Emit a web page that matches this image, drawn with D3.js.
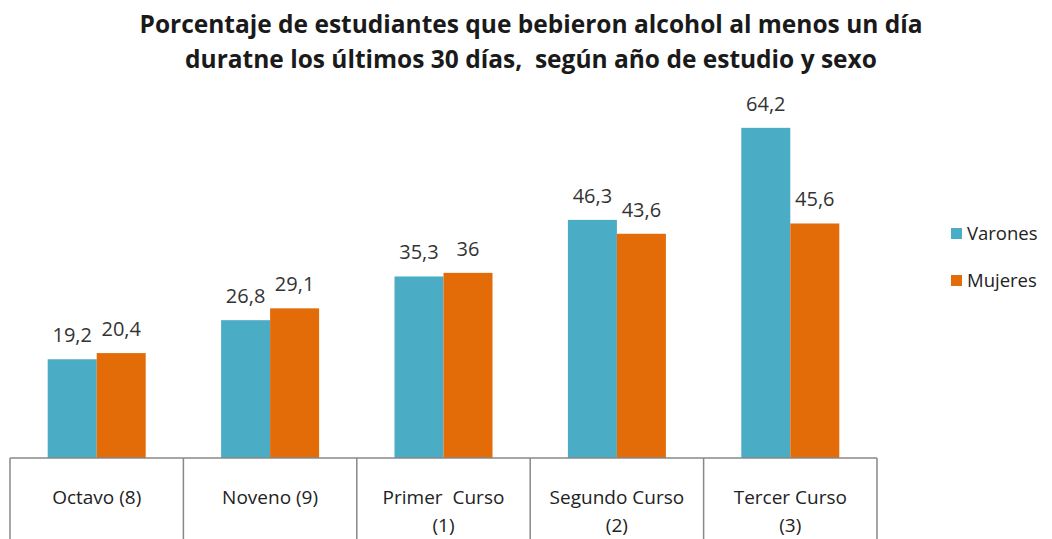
<!DOCTYPE html>
<html>
<head>
<meta charset="utf-8">
<script src="https://cdn.jsdelivr.net/npm/d3@7"></script>
<style>
  body { margin: 0; background: #fff; }
  text { font-family: "Open Sans", "Noto Sans", sans-serif; white-space: pre; }
</style>
</head>
<body>
<div id="chart"></div>
<script>
const W = 1052, H = 539;
const categories = [["Octavo (8)"], ["Noveno (9)"], ["Primer  Curso", "(1)"], ["Segundo Curso", "(2)"], ["Tercer Curso", "(3)"]];
const series = ["Varones", "Mujeres"];
const varones = [19.2, 26.8, 35.3, 46.3, 64.2];
const mujeres = [20.4, 29.1, 36, 43.6, 45.6];
const titleLines = ["Porcentaje de estudiantes que bebieron alcohol al menos un día",
                    "duratne los últimos 30 días,  según año de estudio y sexo"];
const colors = ["#4bacc6", "#e36c09"];

const plot = { left: 10, right: 877, top: 98, bottom: 458 };

const svg = d3.select("#chart").append("svg")
  .attr("width", W).attr("height", H);

// title
svg.append("g").selectAll("text")
  .data(titleLines)
  .join("text")
    .attr("x", 531)
    .attr("y", (d, i) => 33 + i * 35)
    .attr("text-anchor", "middle")
    .attr("font-size", "24.5px")
    .attr("font-weight", "bold")
    .attr("fill", "#1a1a1a")
    .text(d => d);

const keys = categories.map((c, i) => i);
const x = d3.scaleBand().domain(keys).range([plot.left, plot.right]);
const xs = d3.scaleBand().domain(series).range([0, 98]);
const y = d3.scaleLinear().domain([0, 70]).range([plot.bottom, plot.top]);

const data = keys.map(i => ({ i, values: [varones[i], mujeres[i]] }));

const groups = svg.append("g").selectAll("g")
  .data(data)
  .join("g")
    .attr("transform", d => `translate(${x(d.i) + (x.bandwidth() - 98) / 2},0)`);

groups.selectAll("rect")
  .data(d => d.values.map((v, k) => ({ key: series[k], v, k })))
  .join("rect")
    .attr("x", d => xs(d.key))
    .attr("width", xs.bandwidth())
    .attr("y", d => y(d.v))
    .attr("height", d => y(0) - y(d.v))
    .attr("fill", d => colors[d.k]);

groups.selectAll("text")
  .data(d => d.values.map((v, k) => ({ key: series[k], v, k })))
  .join("text")
    .attr("x", d => xs(d.key) + xs.bandwidth() / 2)
    .attr("y", d => y(d.v) - 17)
    .attr("text-anchor", "middle")
    .attr("font-size", "20px")
    .attr("fill", "#333")
    .text(d => String(d.v).replace(".", ","));

// category axis as table cells
const axis = svg.append("g").attr("stroke", "#888").attr("stroke-width", 1.5);
axis.append("line")
  .attr("x1", plot.left).attr("x2", plot.right)
  .attr("y1", plot.bottom).attr("y2", plot.bottom);
axis.selectAll("line.div")
  .data(keys.concat([keys.length]))
  .join("line")
    .attr("class", "div")
    .attr("x1", d => d < keys.length ? x(d) : plot.right)
    .attr("x2", d => d < keys.length ? x(d) : plot.right)
    .attr("y1", plot.bottom).attr("y2", H);

svg.append("g").selectAll("text")
  .data(data)
  .join("text")
    .attr("text-anchor", "middle")
    .attr("font-size", "19px")
    .attr("fill", "#222")
    .each(function(d) {
      d3.select(this).selectAll("tspan")
        .data(categories[d.i])
        .join("tspan")
          .attr("x", x(d.i) + x.bandwidth() / 2)
          .attr("y", (t, j) => 504 + j * 28)
          .text(t => t);
    });

// legend
const legend = svg.append("g").attr("transform", "translate(951,228)");
legend.selectAll("rect")
  .data(series)
  .join("rect")
    .attr("x", 0)
    .attr("y", (d, i) => i * 47)
    .attr("width", 11).attr("height", 11)
    .attr("fill", (d, i) => colors[i]);
legend.selectAll("text")
  .data(series)
  .join("text")
    .attr("x", 16)
    .attr("y", (d, i) => i * 47 + 12)
    .attr("font-size", "18.5px")
    .attr("fill", "#222")
    .text(d => d);
</script>
</body>
</html>
